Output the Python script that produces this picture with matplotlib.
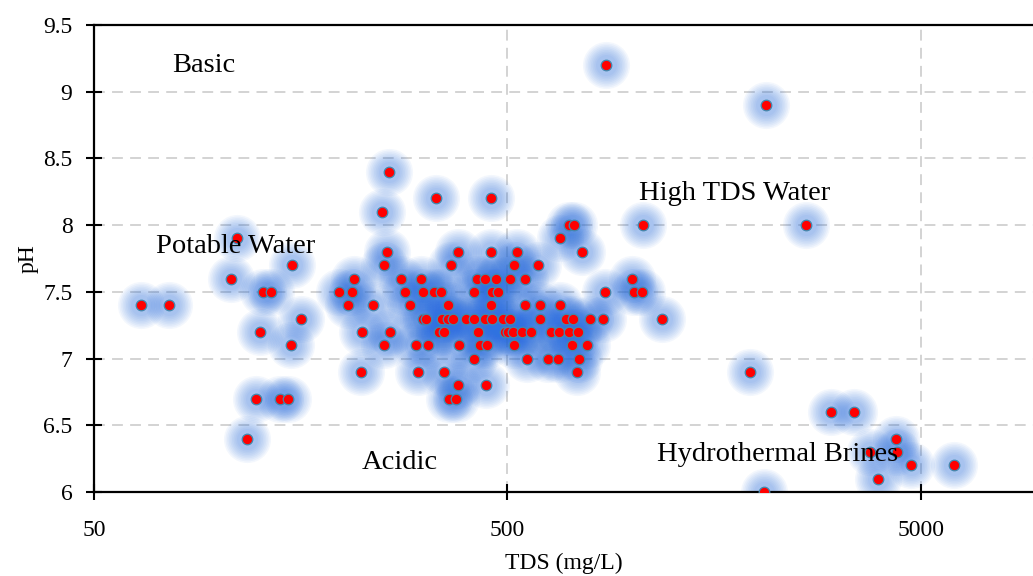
import numpy as np
import matplotlib
matplotlib.use("Agg")
import matplotlib.pyplot as plt
from matplotlib.ticker import FixedLocator, NullLocator

plt.rcParams['font.family'] = ['Liberation Serif', 'DejaVu Serif']

# pH levels and the TDS values (mg/L) read at each level
ph_levels = [9.2, 8.9, 8.4, 8.2, 8.1, 8.0, 7.9, 7.8, 7.7, 7.6, 7.5, 7.4,
             7.3, 7.2, 7.1, 7.0, 6.9, 6.8, 6.7, 6.6, 6.4, 6.3, 6.2, 6.1, 6.0]
tds_92 = [866]
tds_89 = [2115]
tds_84 = [258]
tds_82 = [336, 455]
tds_81 = [248]
tds_80 = [705, 726, 1064, 2640]
tds_79 = [111, 670]
tds_78 = [256, 380, 455, 528, 757]
tds_77 = [151, 251, 366, 518, 594]
tds_76 = [107, 213, 277, 309, 421, 441, 470, 507, 550, 1000]
tds_75 = [128, 134, 196, 210, 282, 312, 332, 345, 414, 459, 474, 860, 1010, 1056]
tds_74 = [65, 76, 206, 237, 290, 359, 455, 550, 600, 670]
tds_73 = [158, 313, 318, 348, 360, 370, 397, 416, 441, 459, 488, 507, 600,
          693, 720, 790, 850, 1180]
tds_72 = [126, 222, 260, 341, 351, 424, 493, 502, 517, 541, 570, 636, 667,
          705, 740]
tds_71 = [150, 251, 300, 322, 381, 429, 447, 518, 715, 780]
tds_70 = [414, 558, 627, 663, 746]
tds_69 = [221, 303, 351, 735, 1925]
tds_68 = [379, 443]
tds_67 = [123, 141, 147, 362, 376]
tds_66 = [3036, 3445]
tds_64 = [117, 4350]
tds_63 = [3765, 4370]
tds_62 = [4725, 6000]
tds_61 = [3925]
tds_60 = [2085]

groups = [tds_92, tds_89, tds_84, tds_82, tds_81, tds_80, tds_79, tds_78,
          tds_77, tds_76, tds_75, tds_74, tds_73, tds_72, tds_71, tds_70,
          tds_69, tds_68, tds_67, tds_66, tds_64, tds_63, tds_62, tds_61, tds_60]

tds = []
ph = []
for level, vals in zip(ph_levels, groups):
    tds += vals
    ph += [level] * len(vals)
tds = np.array(tds)
ph = np.array(ph)

regions = ["Basic", "Potable Water", "High TDS Water", "Acidic", "Hydrothermal Brines"]
region_tds = [92, 110, 1776, 275, 2245]
region_ph = [9.20, 7.84, 8.24, 6.22, 6.28]

fig = plt.figure(figsize=(10.33, 5.76), dpi=100)
ax = fig.add_axes([94 / 1033, 84 / 576, 939 / 1033, 467 / 576])

# soft blue glow under every point
glow = '#2f72e0'
for s in [1150, 1000, 860, 730, 610, 500, 400, 310, 230]:
    ax.scatter(tds, ph, s=s, color=glow, alpha=0.055, linewidths=0, zorder=2)
ax.scatter(tds, ph, s=58, color='#ff0000', edgecolors='#3f8ab0',
           linewidths=0.9, zorder=4)

for name, x, y in zip(regions, region_tds, region_ph):
    ax.text(x, y, name, fontsize=20.5, ha='center', va='center', zorder=5)

ax.set_xscale('log')
ax.set_xlim(50, 9330)
ax.set_ylim(6, 9.5)
ax.xaxis.set_major_locator(FixedLocator([50, 500, 5000]))
ax.xaxis.set_minor_locator(NullLocator())
ax.set_xticklabels(['50', '500', '5000'])
ax.set_yticks([6, 6.5, 7, 7.5, 8, 8.5, 9, 9.5])
ax.set_yticklabels(['6', '6.5', '7', '7.5', '8', '8.5', '9', '9.5'])

ax.grid(True, color='#d0d0d0', linestyle=(0, (6, 4)), linewidth=1.3, zorder=0)
ax.set_axisbelow(True)
ax.tick_params(direction='inout', length=11, width=1.5, labelsize=17)
ax.tick_params(axis='y', pad=10)
ax.tick_params(axis='x', pad=15)
for sp in ['left', 'bottom', 'top']:
    ax.spines[sp].set_linewidth(1.6)
ax.spines['right'].set_visible(False)

ax.set_xlabel('TDS (mg/L)', fontsize=17, labelpad=8)
ax.set_ylabel('pH', fontsize=17, labelpad=3)

fig.savefig('out.png', dpi=100)
